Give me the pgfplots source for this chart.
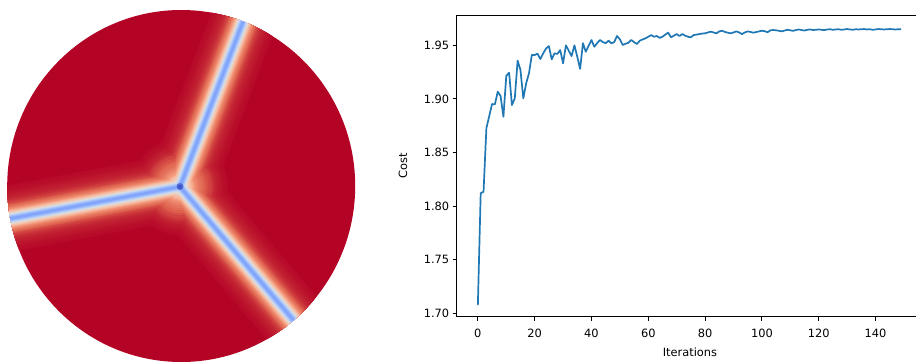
\documentclass[border=0pt]{standalone}
\usepackage{pgfplots}
\pgfplotsset{compat=1.18}
\usepackage{pgfplotstable}
\usepackage{fontspec}
\setmainfont{DejaVu Sans}

\definecolor{cwa}{RGB}{59,76,192}
\definecolor{cwb}{RGB}{98,130,234}
\definecolor{cwc}{RGB}{141,176,254}
\definecolor{cwd}{RGB}{184,208,249}
\definecolor{cwe}{RGB}{221,221,221}
\definecolor{cwf}{RGB}{245,196,173}
\definecolor{cwg}{RGB}{244,154,123}
\definecolor{cwh}{RGB}{222,96,77}
\definecolor{cwi}{RGB}{180,4,38}
\definecolor{mplblue}{RGB}{31,119,180}

\pgfplotstableread{
x y
-55.6 230.9
180 186.7
266.4 -39.7
180 186.7
338.6 373.3
}\branch

\newcommand{\layer}[3]{%
  \addplot[draw=#3, line width=#1bp] table {\branch};
  \addplot[draw=#3, line width=#2bp] coordinates {(180,186.7) (180.01,186.7)};
}

\pgfplotstableread{
it cost
0 1.7077
1 1.8120
2 1.8134
3 1.8726
4 1.8840
5 1.8952
6 1.8950
7 1.9067
8 1.9027
9 1.8834
10 1.9214
11 1.9245
12 1.8943
13 1.9005
14 1.9357
15 1.9270
16 1.9005
17 1.9145
18 1.9239
19 1.9410
20 1.9410
21 1.9422
22 1.9372
23 1.9425
24 1.9470
25 1.9493
26 1.9370
27 1.9425
28 1.9420
29 1.9456
30 1.9332
31 1.9500
32 1.9450
33 1.9400
34 1.9500
35 1.9394
36 1.9280
37 1.9520
38 1.9440
39 1.9496
40 1.9550
41 1.9487
42 1.9520
43 1.9550
44 1.9530
45 1.9520
46 1.9543
47 1.9519
48 1.9530
49 1.9587
50 1.9556
51 1.9503
52 1.9515
53 1.9524
54 1.9550
55 1.9530
56 1.9512
57 1.9543
58 1.9555
59 1.9565
60 1.9580
61 1.9596
62 1.9580
63 1.9587
64 1.9570
65 1.9580
66 1.9600
67 1.9618
68 1.9575
69 1.9590
70 1.9605
71 1.9587
72 1.9605
73 1.9590
74 1.9580
75 1.9575
76 1.9596
77 1.9600
78 1.9605
79 1.9610
80 1.9612
81 1.9620
82 1.9627
83 1.9620
84 1.9612
85 1.9630
86 1.9636
87 1.9625
88 1.9618
89 1.9612
90 1.9620
91 1.9630
92 1.9620
93 1.9605
94 1.9620
95 1.9630
96 1.9625
97 1.9618
98 1.9624
99 1.9630
100 1.9636
101 1.9632
102 1.9622
103 1.9640
104 1.9643
105 1.9640
106 1.9636
107 1.9630
108 1.9638
109 1.9645
110 1.9640
111 1.9635
112 1.9643
113 1.9648
114 1.9642
115 1.9638
116 1.9645
117 1.9648
118 1.9643
119 1.9645
120 1.9648
121 1.9645
122 1.9642
123 1.9648
124 1.9650
125 1.9645
126 1.9648
127 1.9650
128 1.9645
129 1.9648
130 1.9652
131 1.9648
132 1.9645
133 1.9650
134 1.9648
135 1.9650
136 1.9652
137 1.9648
138 1.9650
139 1.9645
140 1.9648
141 1.9652
142 1.9650
143 1.9648
144 1.9650
145 1.9652
146 1.9650
147 1.9648
148 1.9650
149 1.9650
}\costdata

\begin{document}
\begin{tikzpicture}
\path[use as bounding box] (0,0) rectangle (916bp,363bp);

% ---------- left: field on the disk ----------
\begin{axis}[
  at={(0bp,0bp)}, anchor=south west,
  scale only axis, width=370bp, height=363bp,
  xmin=0, xmax=370, ymin=0, ymax=363, y dir=reverse,
  hide axis, clip=false,
  every axis plot/.append style={line cap=round, line join=round},
]
\begin{scope}
\clip (axis cs:181.2,186) ellipse [x radius=174bp, y radius=176bp];
\fill[cwi] (axis cs:0,0) rectangle (axis cs:370,363);
\layer{66}{96}{cwi!92!cwh}
\layer{60}{90}{cwi!88!cwh}
\layer{54}{84}{cwi!82!cwh}
\layer{49}{79}{cwi!74!cwh}
\layer{44}{74}{cwi!66!cwh}
\layer{40}{70}{cwi!58!cwh}
\layer{36}{66}{cwi!44!cwh}
\layer{33}{62.7}{cwi!32!cwh}
\layer{30}{57}{cwi!16!cwh}
\layer{28}{51.7}{cwh}
\layer{26}{46.5}{cwh!80!cwg}
\layer{24}{41.7}{cwh!64!cwg}
\layer{22}{37}{cwh!40!cwg}
\layer{20}{32.6}{cwh!20!cwg}
\layer{18.4}{29.2}{cwg}
\layer{17}{26.3}{cwg!60!cwf}
\layer{15.6}{23.6}{cwg!32!cwf}
\layer{14.4}{21.3}{cwg!8!cwf}
\layer{13}{18.7}{cwf!80!cwe}
\layer{11.6}{16.3}{cwf!40!cwe}
\layer{10}{13.6}{cwe}
\layer{8.6}{11.4}{cwe!52!cwd}
\layer{7}{8.9}{cwd!96!cwc}
\layer{5.6}{7}{cwd!48!cwc}
\layer{4}{5}{cwd!16!cwc}
\layer{2.4}{3}{cwc!76!cwb}
\addplot[draw=cwb!55!cwa, line width=7bp] coordinates {(180,186.7) (180.01,186.7)};
\addplot[draw=cwa!85!cwb, line width=4bp] coordinates {(180,186.7) (180.01,186.7)};
\end{scope}
\end{axis}

% ---------- right: cost curve ----------
\begin{axis}[
  at={(456.7bp,46.3bp)}, anchor=south west,
  scale only axis, width=465.5bp, height=301.7bp,
  xmin=-7.45, xmax=156.45, ymin=1.6968, ymax=1.9783,
  xtick={0,20,...,140},
  ytick={1.70,1.75,1.80,1.85,1.90,1.95},
  y tick label style={/pgf/number format/.cd, fixed, fixed zerofill, precision=2, /tikz/.cd},
  x tick label style={yshift=-4.5bp},
  /pgf/number format/assume math mode=true,
  tick align=outside, xtick pos=left, ytick pos=left,
  major tick length=4bp,
  every tick/.style={black, line width=0.9bp},
  axis line style={line width=0.9bp, black},
  tick label style={font=\fontsize{11.4bp}{13bp}\selectfont},
  label style={font=\fontsize{11.4bp}{13bp}\selectfont},
  xlabel={Iterations}, ylabel={Cost},
  xlabel style={at={(axis description cs:0.501,-0.118)}, anchor=center},
  ylabel style={at={(axis description cs:-0.1154,0.5)}, anchor=center},
]
\addplot[mplblue, line width=1.7bp, line join=round, no marks] table[x=it, y=cost] {\costdata};
\end{axis}
\end{tikzpicture}
\end{document}
